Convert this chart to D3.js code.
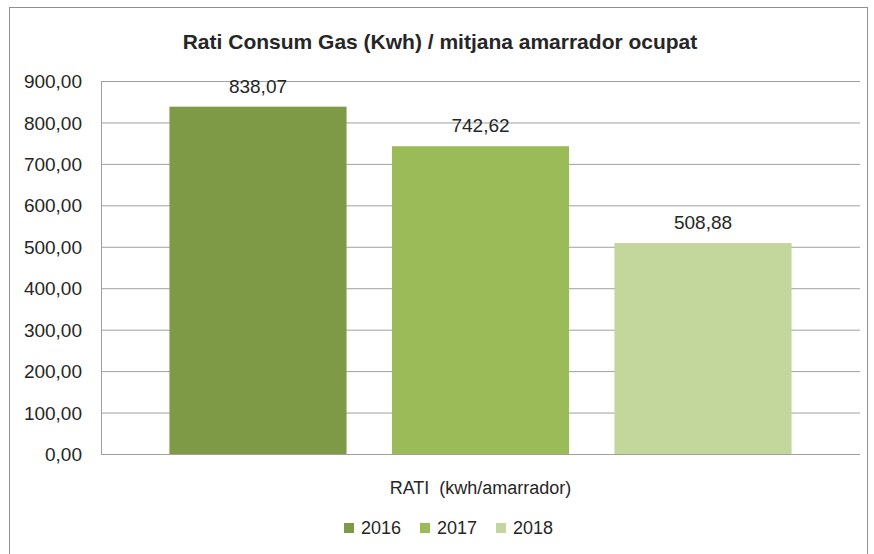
<!DOCTYPE html>
<html>
<head>
<meta charset="utf-8">
<script src="https://cdn.jsdelivr.net/npm/d3@7"></script>
<style>
  body { margin: 0; background: #fff; }
  text { font-family: "Liberation Sans", Arial, sans-serif; fill: #262626; }
</style>
</head>
<body>
<script>
// dades del grafic
var categories = ["RATI  (kwh/amarrador)"];
var years = ["2016", "2017", "2018"];
var values = [838.07, 742.62, 508.88];
var yTicks = [0, 100, 200, 300, 400, 500, 600, 700, 800, 900];
var colors = ["#7e9a47", "#9bbb59", "#c3d69b"];

var W = 874, H = 554;
var plot = { left: 101, right: 860, top: 81, bottom: 454 };

var svg = d3.select("body").append("svg")
  .attr("width", W)
  .attr("height", H);

// format catala: coma decimal
var locale = d3.formatLocale({ decimal: ",", thousands: ".", grouping: [3], currency: ["", "€"] });
var fmt = locale.format(",.2f");

// marc del grafic
svg.append("rect")
  .attr("x", 9.5).attr("y", 7.5)
  .attr("width", 858).attr("height", 560)
  .attr("fill", "none")
  .attr("stroke", "#8f8f8f");

var y = d3.scaleLinear().domain([0, 900]).range([plot.bottom, plot.top]);

var x0 = d3.scaleBand().domain(categories)
  .range([plot.left, plot.right])
  .paddingInner(0).paddingOuter(0.11);

var x1 = d3.scaleBand().domain(years)
  .range([0, x0.bandwidth()])
  .paddingInner(0.204).paddingOuter(0);

var color = d3.scaleOrdinal().domain(years).range(colors);

// eix y + linies de quadricula
var yAxis = svg.append("g")
  .attr("transform", "translate(" + plot.left + ",0)")
  .call(d3.axisLeft(y).tickValues(yTicks).tickFormat(fmt)
    .tickSize(-(plot.right - plot.left)).tickPadding(19));
yAxis.select(".domain").remove();
yAxis.selectAll(".tick line").attr("stroke", "#a0a0a0").attr("stroke-width", 1);
yAxis.selectAll(".tick text")
  .style("font-size", "19px")
  .attr("dy", "0.35em")
  .attr("fill", "#262626");

// linia vertical esquerra
svg.append("line")
  .attr("x1", plot.left + 0.5).attr("x2", plot.left + 0.5)
  .attr("y1", plot.top).attr("y2", plot.bottom)
  .attr("stroke", "#a0a0a0");

// barres
var groups = svg.selectAll("g.cat")
  .data(categories)
  .enter().append("g")
  .attr("class", "cat")
  .attr("transform", function(d) { return "translate(" + x0(d) + ",0)"; });

var rows = years.map(function(yr, i) { return { year: yr, value: values[i] }; });

groups.selectAll("rect")
  .data(rows)
  .enter().append("rect")
  .attr("x", function(d) { return x1(d.year); })
  .attr("y", function(d) { return y(d.value); })
  .attr("width", x1.bandwidth())
  .attr("height", function(d) { return y(0) - y(d.value); })
  .attr("fill", function(d) { return color(d.year); });

groups.selectAll("text.val")
  .data(rows)
  .enter().append("text")
  .attr("class", "val")
  .attr("x", function(d) { return x1(d.year) + x1.bandwidth() / 2; })
  .attr("y", function(d) { return y(d.value) - 14; })
  .attr("text-anchor", "middle")
  .style("font-size", "19px")
  .text(function(d) { return fmt(d.value); });

// linia base
svg.append("line")
  .attr("x1", plot.left).attr("x2", plot.right)
  .attr("y1", plot.bottom + 0.5).attr("y2", plot.bottom + 0.5)
  .attr("stroke", "#a0a0a0");

// etiqueta de categoria
svg.selectAll("text.cat")
  .data(categories)
  .enter().append("text")
  .attr("class", "cat")
  .attr("x", function(d) { return x0(d) + x0.bandwidth() / 2; })
  .attr("y", 494)
  .attr("text-anchor", "middle")
  .style("font-size", "18px")
  .style("white-space", "pre")
  .text(function(d) { return d; });

// titol
svg.append("text")
  .attr("x", 440).attr("y", 49)
  .attr("text-anchor", "middle")
  .style("font-size", "21px")
  .style("font-weight", "bold")
  .text("Rati Consum Gas (Kwh) / mitjana amarrador ocupat");

// llegenda
var legend = svg.append("g");
var item = legend.selectAll("g")
  .data(years)
  .enter().append("g")
  .attr("transform", function(d, i) { return "translate(" + (344 + i * 76) + ",523)"; });
item.append("rect")
  .attr("width", 10).attr("height", 10)
  .attr("fill", function(d) { return color(d); });
item.append("text")
  .attr("x", 17).attr("y", 11)
  .style("font-size", "18px")
  .text(function(d) { return d; });
</script>
</body>
</html>
